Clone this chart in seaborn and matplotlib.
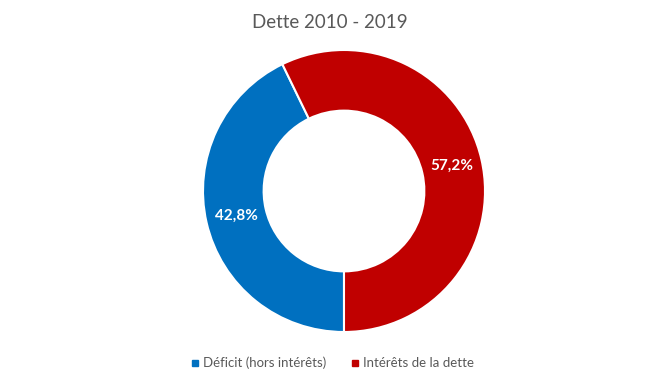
import matplotlib
matplotlib.use("Agg")
import matplotlib.pyplot as plt
from matplotlib.lines import Line2D
import numpy as np
import seaborn as sns

# Data
categories = ["Déficit (hors intérêts)", "Intérêts de la dette"]
values = [42.8, 57.2]
labels = ["42,8%", "57,2%"]
colors = ["#0070C0", "#C00000"]

sns.set_theme(style="white")
plt.rcParams['font.family'] = ['Lato', 'DejaVu Sans']

fig = plt.figure(figsize=(6.61, 3.86), dpi=100)
W, H = 661, 386
cx, cy, R = 344, 191, 141
ax = fig.add_axes([(cx - R) / W, (H - cy - R) / H, 2 * R / W, 2 * R / H])

palette = sns.color_palette(colors)
wedges, _ = ax.pie(values, colors=palette, startangle=270, counterclock=False,
                   radius=1, wedgeprops=dict(width=0.43, edgecolor="white", linewidth=1.5))

# percentage labels at mid-ring
angle = 270
for v, lab in zip(values, labels):
    sweep = v / sum(values) * 360
    mid = np.deg2rad(angle - sweep / 2)
    ax.text(0.785 * np.cos(mid), 0.785 * np.sin(mid), lab, ha="center", va="center",
            color="white", fontsize=11, fontweight="bold")
    angle -= sweep

ax.set_xlim(-1, 1)
ax.set_ylim(-1, 1)
ax.set_axis_off()

fig.text(330 / W, 1 - 22 / H, "Dette 2010 - 2019", ha="center", va="center",
         fontsize=13.5, color="#595959")

handles = [Line2D([], [], marker="s", linestyle="", markersize=5, color=c) for c in colors]
fig.legend(handles, categories, loc="center", bbox_to_anchor=(332 / W, 1 - 363 / H), ncol=2,
           frameon=False, fontsize=9.5, labelcolor="#595959", handletextpad=0.2,
           columnspacing=1.8, handlelength=0.8)

fig.savefig("out.png", dpi=100)
